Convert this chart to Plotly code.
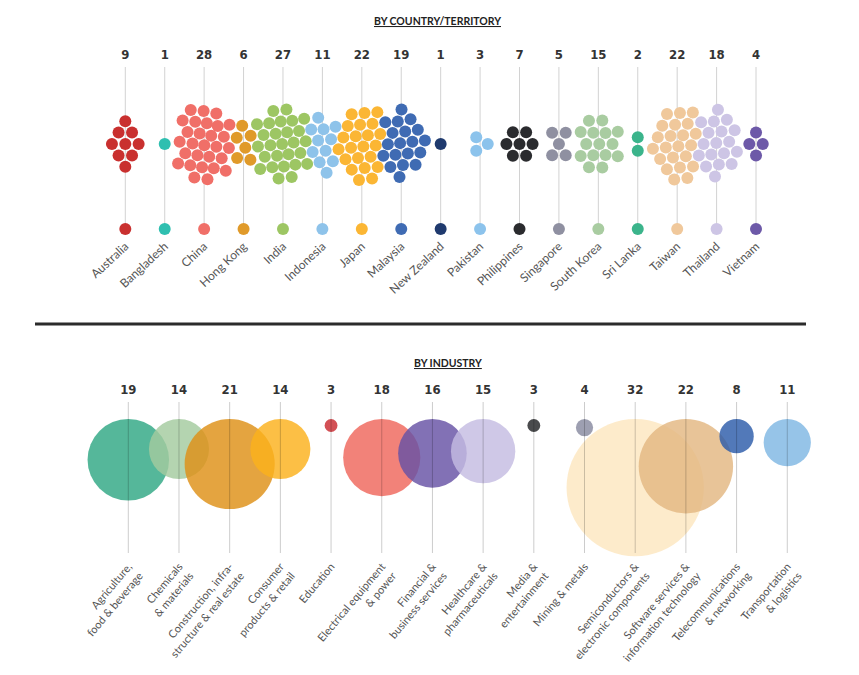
import numpy as np
import plotly.graph_objects as go

"""Data"""

countries = ['Australia', 'Bangladesh', 'China', 'Hong Kong', 'India', 'Indonesia', 'Japan',
             'Malaysia', 'New Zealand', 'Pakistan', 'Philippines', 'Singapore', 'South Korea',
             'Sri Lanka', 'Taiwan', 'Thailand', 'Vietnam']
country_counts = [9, 1, 28, 6, 27, 11, 22, 19, 1, 3, 7, 5, 15, 2, 22, 18, 4]
country_colors = ['#c9302f', '#2fbfb0', '#f06f68', '#e09a2a', '#9dc663', '#8ec3ea', '#fbb634',
                  '#3f6bb3', '#1f3a6e', '#8cc3ec', '#2a2b2e', '#8f90a1', '#a9cca1', '#3bb48b',
                  '#f0c89b', '#cdc5e5', '#6d59a8']

industries = ['Agriculture,<br>food & beverage', 'Chemicals<br>& materials',
              'Construction, infra-<br>structure & real estate', 'Consumer<br>products & retail',
              'Education', 'Electrical equipment<br>& power', 'Financial &<br>business services',
              'Healthcare &<br>pharmaceuticals', 'Media &<br>entertainment', 'Mining & metals',
              'Semiconductors &<br>electronic components',
              'Software services &<br>information technology',
              'Telecommunications<br>& networking', 'Transportation<br>& logistics']
industry_counts = [19, 14, 21, 14, 3, 18, 16, 15, 3, 4, 32, 22, 8, 11]
industry_colors = ['#2fa784', '#a3cb9f', '#de9016', '#fbb11c', '#c92a2f', '#ef675c', '#6652a5',
                   '#c4bce2', '#222326', '#878aa0', '#fde6c0', '#e3b781', '#2c5ca9', '#7fb7e3']

"""Layout constants (page pixels)"""

W, H = 859, 675
PAD = 8                               # browser body margin
top_x0, top_step = 125.3, 39.42      # first country line, spacing
bot_x0, bot_step = 128.3, 50.69      # first industry line, spacing
swarm_y = 144
dot_d = 12
bubble_px = 4.29                      # bubble diameter per company
bubble_top = 419


def swarm(counts, step, gap=13.4, iters=400):
    # hex seed around each line, then relax with pull + collision
    pts, tx = [], []
    for i, n in enumerate(counts):
        cells = []
        for r in range(-8, 9):
            for c in range(-5, 6):
                x = (c + 0.5 * (r % 2)) * gap
                y = r * gap * 0.866
                cells.append((x * x * 1.4 + y * y, x, y))
        cells.sort()
        for _, x, y in cells[:n]:
            pts.append([i * step + x, y])
            tx.append(i * step)
    P = np.array(pts, float)
    T = np.array(tx, float)
    for it in range(iters):
        P[:, 0] += 0.09 * (T - P[:, 0])
        P[:, 1] += 0.04 * (0 - P[:, 1])
        for _ in range(4):
            d = P[:, None, :] - P[None, :, :]
            dist = np.sqrt((d ** 2).sum(-1))
            np.fill_diagonal(dist, np.inf)
            dist = np.maximum(dist, 1e-6)
            ov = np.clip(gap - dist, 0, None)
            P += (d / dist[..., None] * (ov / 2)[..., None]).sum(1) * 0.5
    return P


P = swarm(country_counts, top_step)
dot_x = P[:, 0] / top_step
dot_y = swarm_y + P[:, 1]
dot_c = [c for c, n in zip(country_colors, country_counts) for _ in range(n)]

idx_top = list(range(len(countries)))
idx_bot = list(range(len(industries)))

fig = go.Figure()

# vertical guide lines (top: behind the dots)
lx, ly = [], []
for i in idx_top:
    lx += [i, i, None]
    ly += [67, 229, None]
fig.add_trace(go.Scatter(x=lx, y=ly, mode='lines', line=dict(color='#d2d2d2', width=1),
                         hoverinfo='skip', xaxis='x', yaxis='y'))

# swarm
fig.add_trace(go.Scatter(x=dot_x, y=dot_y, mode='markers',
                         marker=dict(size=dot_d, color=dot_c, line=dict(width=0)),
                         xaxis='x', yaxis='y'))
# bottom key dots
fig.add_trace(go.Scatter(x=idx_top, y=[229] * len(idx_top), mode='markers',
                         marker=dict(size=dot_d, color=country_colors, line=dict(width=0)),
                         xaxis='x', yaxis='y'))
# country counts
count_font = dict(family='DejaVu Sans Condensed, Liberation Sans Narrow, sans-serif',
                  size=13, color='#333333', weight=700)
fig.add_trace(go.Scatter(x=idx_top, y=[56] * len(idx_top), mode='text',
                         text=[str(v) for v in country_counts], textfont=count_font,
                         xaxis='x', yaxis='y'))

# industry bubbles
sizes = [v * bubble_px for v in industry_counts]
fig.add_trace(go.Scatter(x=idx_bot, y=[bubble_top + s / 2 for s in sizes], mode='markers',
                         marker=dict(size=sizes, color=industry_colors, opacity=0.82,
                                     line=dict(width=0)),
                         xaxis='x2', yaxis='y'))
# bottom guide lines drawn over the bubbles, translucent so they darken them
lx, ly = [], []
for i in idx_bot:
    lx += [i, i, None]
    ly += [402, 553, None]
fig.add_trace(go.Scatter(x=lx, y=ly, mode='lines', line=dict(color='rgba(0,0,0,0.2)', width=1),
                         hoverinfo='skip', xaxis='x2', yaxis='y'))
fig.add_trace(go.Scatter(x=idx_bot, y=[391] * len(idx_bot), mode='text',
                         text=[str(v) for v in industry_counts], textfont=count_font,
                         xaxis='x2', yaxis='y'))

# section titles + divider
fig.add_annotation(x=437, y=21, xref='x3', yref='y', text='<b><u>BY COUNTRY/TERRITORY</u></b>',
                   showarrow=False, font=dict(family='Lato', size=10.5, color='#222222'))
fig.add_annotation(x=448, y=363, xref='x3', yref='y', text='<b><u>BY INDUSTRY</u></b>',
                   showarrow=False, font=dict(family='Lato', size=10.5, color='#222222'))
fig.add_shape(type='line', x0=35, x1=806, y0=324, y1=324, xref='x3', yref='y',
              line=dict(color='#2b2b2b', width=3))

axis_common = dict(showgrid=False, zeroline=False, showline=False, ticks='')
fig.update_layout(
    width=W - PAD, height=H - PAD,
    margin=dict(l=0, r=0, t=0, b=0),
    paper_bgcolor='white', plot_bgcolor='white',
    showlegend=False,
    xaxis=dict(range=[(PAD - top_x0) / top_step, (W - top_x0) / top_step],
               tickvals=idx_top, ticktext=countries, tickangle=-43,
               tickfont=dict(family='Lato', size=12, color='#555555'),
               anchor='free', position=(H - 236) / (H - PAD), **axis_common),
    xaxis2=dict(range=[(PAD - bot_x0) / bot_step, (W - bot_x0) / bot_step],
                tickvals=idx_bot, ticktext=industries, tickangle=-50,
                tickfont=dict(family='Lato', size=11, color='#555555'),
                anchor='free', position=(H - 557) / (H - PAD), overlaying='x', **axis_common),
    xaxis3=dict(range=[PAD, W], visible=False, overlaying='x'),
    yaxis=dict(range=[H, PAD], visible=False),
)

fig.write_html('out.html')
